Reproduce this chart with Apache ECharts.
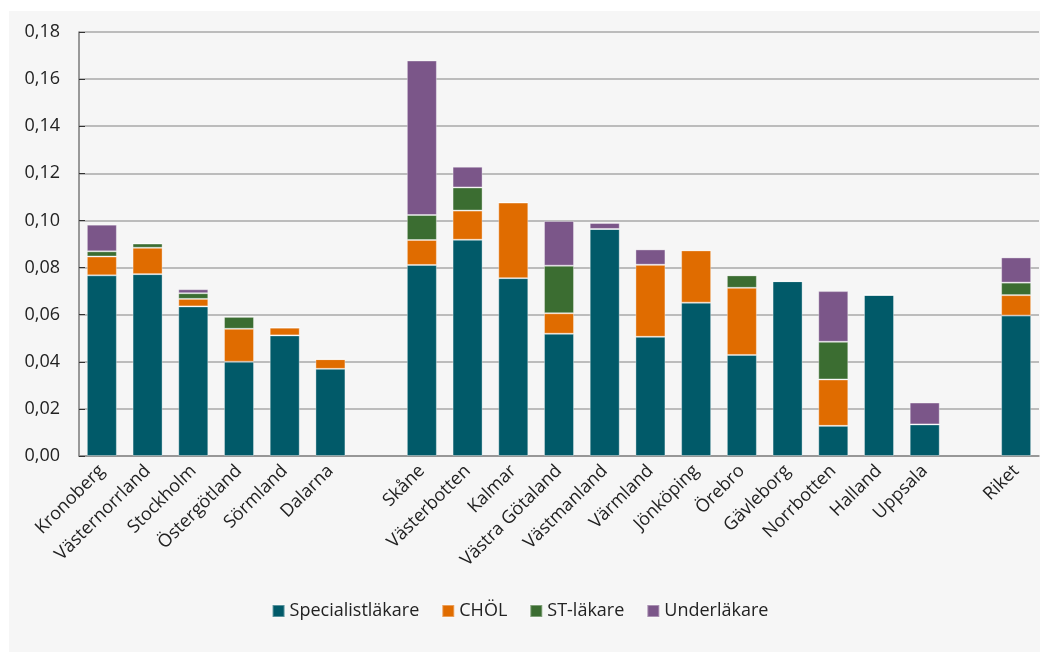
<!DOCTYPE html>
<html>
<head>
<meta charset="utf-8">
<script src="https://cdn.jsdelivr.net/npm/echarts@6/dist/echarts.min.js"></script>
<style>
  html, body { margin: 0; padding: 0; background: #ffffff; }
  #chart { width: 1040px; height: 652px; }
</style>
</head>
<body>
<div id="chart"></div>
<script>
// Regions, with empty slots separating the three groups
const categories = [
  'Kronoberg', 'Västernorrland', 'Stockholm', 'Östergötland', 'Sörmland', 'Dalarna',
  '',
  'Skåne', 'Västerbotten', 'Kalmar', 'Västra Götaland', 'Västmanland', 'Värmland',
  'Jönköping', 'Örebro', 'Gävleborg', 'Norrbotten', 'Halland', 'Uppsala',
  '',
  'Riket'
];

const specialistlakare = [0.0767, 0.0772, 0.0635, 0.0400, 0.0512, 0.0370, null,
  0.0811, 0.0918, 0.0755, 0.0519, 0.0964, 0.0506, 0.0651, 0.0429, 0.0742, 0.0128, 0.0684, 0.0134, null,
  0.0596];
const chol = [0.0080, 0.0112, 0.0032, 0.0140, 0.0033, 0.0041, null,
  0.0106, 0.0124, 0.0321, 0.0087, 0, 0.0306, 0.0222, 0.0285, 0, 0.0197, 0, 0, null,
  0.0087];
const stLakare = [0.0022, 0.0018, 0.0024, 0.0051, 0, 0, null,
  0.0106, 0.0098, 0, 0.0202, 0, 0, 0, 0.0053, 0, 0.0160, 0, 0, null,
  0.0053];
const underlakare = [0.0113, 0, 0.0017, 0, 0, 0, null,
  0.0656, 0.0088, 0, 0.0190, 0.0025, 0.0065, 0, 0, 0, 0.0215, 0, 0.0093, null,
  0.0107];

const yTicks = { min: 0, max: 0.18, interval: 0.02 };

const seriesDefs = [
  { name: 'Specialistläkare', data: specialistlakare, color: '#015a69' },
  { name: 'CHÖL', data: chol, color: '#e06c00' },
  { name: 'ST-läkare', data: stLakare, color: '#3b6d31' },
  { name: 'Underläkare', data: underlakare, color: '#7b5689' }
];

const font = "'Open Sans', 'DejaVu Sans', sans-serif";
const chart = echarts.init(document.getElementById('chart'), null, { renderer: 'canvas' });

chart.setOption({
  animation: false,
  backgroundColor: '#ffffff',
  graphic: [{
    type: 'rect',
    z: -10,
    shape: { x: 9, y: 11, width: 1031, height: 641 },
    style: { fill: '#f6f6f6' }
  }],
  grid: { left: 79, right: 1, top: 32, bottom: 196, containLabel: false },
  legend: {
    bottom: 27,
    left: 'center',
    itemWidth: 12,
    itemHeight: 12,
    itemGap: 22,
    icon: 'rect',
    textStyle: { fontFamily: font, fontSize: 18, color: '#222' },
    data: seriesDefs.map(s => s.name)
  },
  xAxis: {
    type: 'category',
    data: categories,
    axisLine: { lineStyle: { color: '#8a8a8a', width: 1.5 } },
    axisTick: { show: false },
    axisLabel: {
      interval: 0,
      rotate: 45,
      margin: 12,
      fontFamily: font,
      fontSize: 18,
      color: '#222'
    }
  },
  yAxis: {
    type: 'value',
    min: yTicks.min,
    max: yTicks.max,
    interval: yTicks.interval,
    axisLine: { show: true, lineStyle: { color: '#7a7a7a', width: 1.5 } },
    axisTick: { show: true, inside: true, length: 6, lineStyle: { color: '#333' } },
    splitLine: { lineStyle: { color: '#a8a8a8', width: 1.5 } },
    axisLabel: {
      margin: 19,
      fontFamily: font,
      fontSize: 18,
      color: '#222',
      formatter: v => v.toFixed(2).replace('.', ',')
    }
  },
  series: seriesDefs.map(s => ({
    name: s.name,
    type: 'bar',
    stack: 'total',
    barWidth: 30,
    data: s.data,
    itemStyle: {
      color: s.color,
      borderColor: 'rgba(255,255,255,0.35)',
      borderWidth: 1
    }
  }))
});
</script>
</body>
</html>
